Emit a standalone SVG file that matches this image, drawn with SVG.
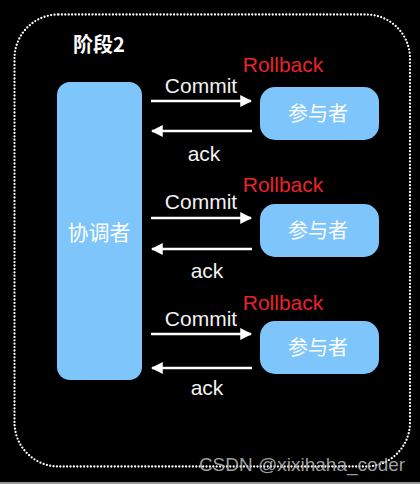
<svg xmlns="http://www.w3.org/2000/svg" width="420" height="484" viewBox="0 0 420 484">
<defs>
<style>
.node{fill:#7dc5fa}
.lbl{font-family:"Noto Sans CJK SC","Noto Sans",sans-serif;fill:#ffffff;text-anchor:middle}
.en{font-family:"Liberation Sans",Arial,sans-serif;text-anchor:middle}
.msg{fill:#f2f2f2;font-size:21px}
.rb{fill:#e8232c;font-size:21px}
.arr{stroke:#ffffff;stroke-width:2.6;fill:none}
</style>
<marker id="ah" viewBox="0 0 10 10" refX="9" refY="5" markerWidth="4.6" markerHeight="4.6" orient="auto-start-reverse" markerUnits="strokeWidth">
<path d="M0,0 L10,5 L0,10 z" fill="#ffffff"/>
</marker>
</defs>
<rect x="0" y="0" width="420" height="484" fill="#000000"/>
<rect x="0" y="482" width="420" height="2" fill="#9a9a9a"/>
<rect x="14.5" y="14.5" width="395.5" height="452" rx="44" ry="44" fill="none" stroke="#ffffff" stroke-width="2.3" stroke-linecap="round" stroke-dasharray="0 3.4"/>
<text x="73" y="52" font-family="Noto Sans CJK SC,sans-serif" font-weight="bold" font-size="20" fill="#ffffff">阶段2</text>

<g id="coordinator">
<rect class="node" x="57" y="82" width="85" height="298" rx="13" ry="13"/>
<text class="lbl" x="99" y="240" font-size="21">协调者</text>
</g>
<g id="participant1">
<rect class="node" x="260" y="87" width="119" height="53" rx="15" ry="15"/>
<text class="lbl" x="318" y="121" font-size="20">参与者</text>
</g>
<g id="participant2">
<rect class="node" x="260" y="204" width="119" height="53" rx="15" ry="15"/>
<text class="lbl" x="318" y="238" font-size="20">参与者</text>
</g>
<g id="participant3">
<rect class="node" x="260" y="321" width="119" height="53" rx="15" ry="15"/>
<text class="lbl" x="318" y="355" font-size="20">参与者</text>
</g>

<g id="connectors">
<line class="arr" x1="151" y1="101" x2="251" y2="101" marker-end="url(#ah)"/>
<line class="arr" x1="252" y1="131" x2="152" y2="131" marker-end="url(#ah)"/>
<line class="arr" x1="151" y1="218" x2="251" y2="218" marker-end="url(#ah)"/>
<line class="arr" x1="252" y1="249" x2="152" y2="249" marker-end="url(#ah)"/>
<line class="arr" x1="151" y1="334" x2="251" y2="334" marker-end="url(#ah)"/>
<line class="arr" x1="252" y1="368" x2="152" y2="368" marker-end="url(#ah)"/>
<text class="en msg" x="201" y="93">Commit</text>
<text class="en msg" x="204" y="161">ack</text>
<text class="en rb" x="283" y="72">Rollback</text>
<text class="en msg" x="201" y="209">Commit</text>
<text class="en msg" x="207" y="278">ack</text>
<text class="en rb" x="283" y="192">Rollback</text>
<text class="en msg" x="201" y="326">Commit</text>
<text class="en msg" x="207" y="395">ack</text>
<text class="en rb" x="283" y="310">Rollback</text>
</g>
<text x="302" y="471" font-family="Liberation Sans,Arial,sans-serif" font-size="19" fill="#bdbdbd" fill-opacity="0.85" text-anchor="middle">CSDN @xixihaha_coder</text>
</svg>
